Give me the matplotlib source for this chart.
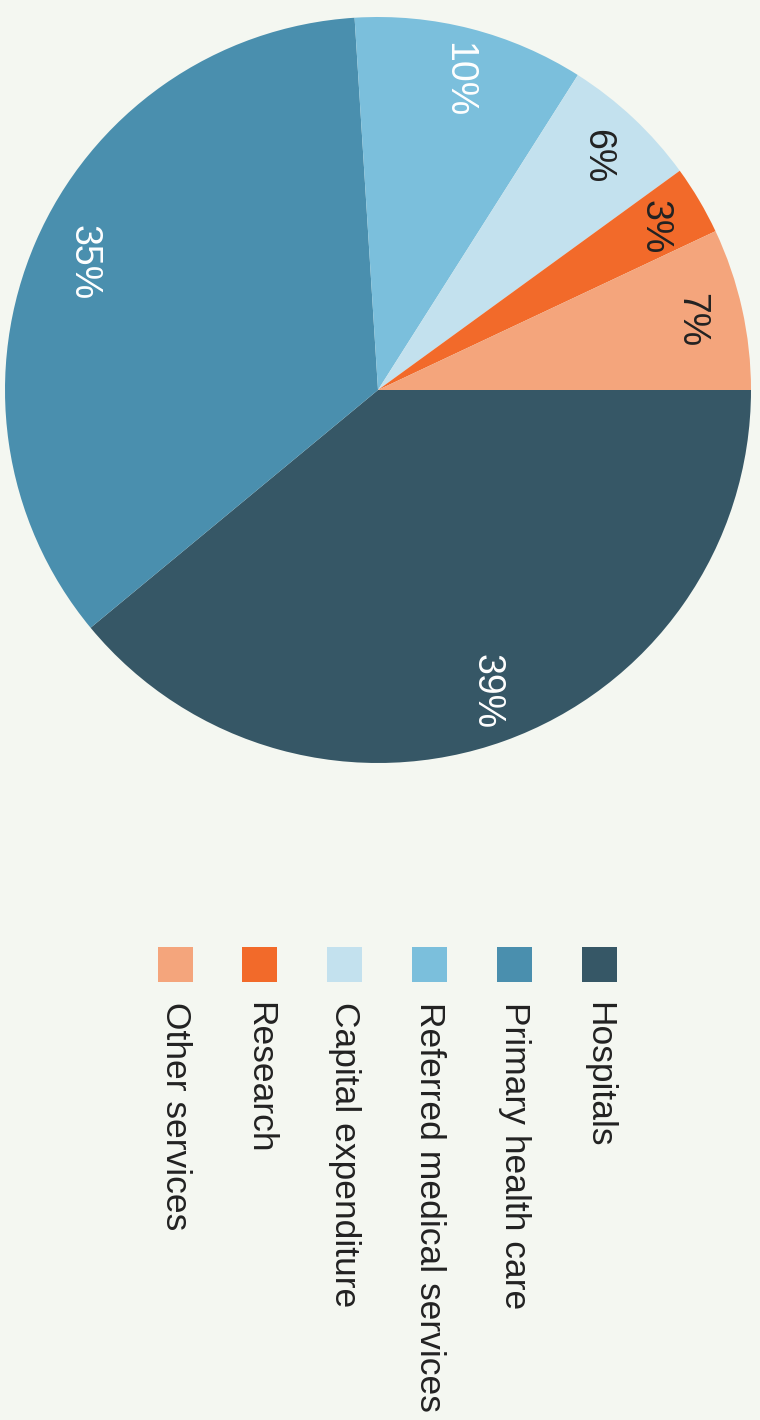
import matplotlib.pyplot as plt
from matplotlib.patches import Rectangle

# shares of health spending (chart is drawn rotated 90 degrees)
labels = ["Hospitals", "Primary health care", "Referred medical services",
          "Capital expenditure", "Research", "Other services"]
shares = [39, 35, 10, 6, 3, 7]
colors = ["#365766", "#4a8fae", "#7bbfdc", "#c3e1ee", "#f26a2a", "#f4a57c"]
text_colors = ["white", "white", "white", "#222222", "#222222", "#222222"]

bg = "#f4f7f1"
plt.rcParams['font.family'] = ['Liberation Sans', 'DejaVu Sans']

W, H = 760, 1420
fig = plt.figure(figsize=(W / 100, H / 100), dpi=100, facecolor=bg)

# pie axes: centre (378, 390) px, radius 373 px
cx, cy, r = 378, 390, 373
ax = fig.add_axes([(cx - r) / W, (H - cy - r) / H, 2 * r / W, 2 * r / H])
ax.set_facecolor(bg)
wedges, texts, autotexts = ax.pie(shares, colors=colors, startangle=0, counterclock=False,
                                  autopct="%d%%", pctdistance=0.86,
                                  wedgeprops=dict(linewidth=0))
for t, c in zip(autotexts, text_colors):
    t.set_color(c)
    t.set_rotation(270)
    t.set_fontsize(27)
ax.set_xlim(-1, 1)
ax.set_ylim(-1, 1)
ax.set_aspect("equal")
ax.axis("off")

# rotated legend
x0, step = 599, 84.8
sq = 35
for i, (lab, col) in enumerate(zip(labels, colors)):
    x = x0 - i * step
    fig.patches.append(Rectangle(((x - sq / 2) / W, (H - 982) / H), sq / W, sq / H,
                                 transform=fig.transFigure, facecolor=col, edgecolor="none"))
    fig.text(x / W, (H - 1002) / H, lab, rotation=270, ha="center", va="top",
             fontsize=25.5, color="#222222")

fig.savefig("out.png", dpi=100, facecolor=bg)
